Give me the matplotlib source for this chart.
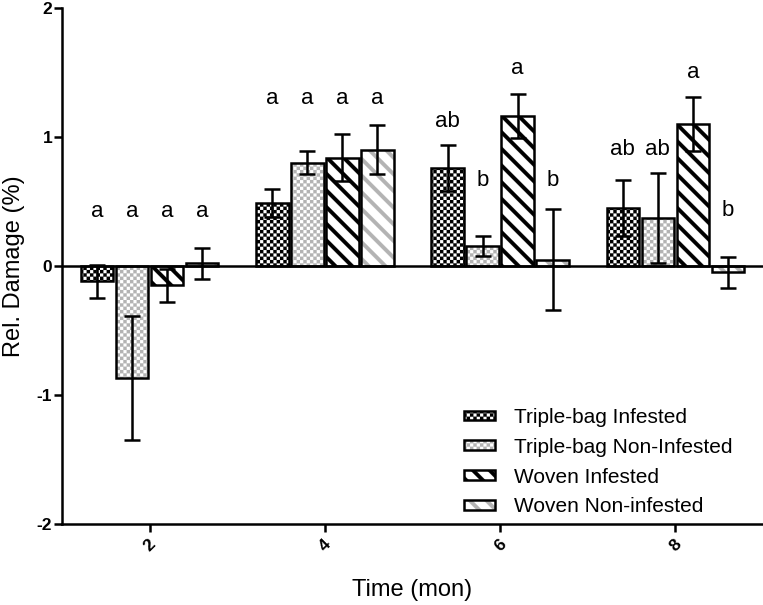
"""
Grouped bar chart of relative damage over storage time, with checker and
stripe fills drawn through custom hatch patterns.
"""

import warnings
import numpy as np
import matplotlib
matplotlib.use('Agg')  # Use non-interactive backend
import matplotlib.pyplot as plt
from matplotlib import hatch as mhatch
from matplotlib.path import Path
from matplotlib.patches import Patch

warnings.filterwarnings('ignore')  # custom hatch letters raise a deprecation note

# ---- data -----------------------------------------------------------------
months = ['2', '4', '6', '8']
series = ['Triple-bag Infested', 'Triple-bag Non-Infested',
          'Woven Infested', 'Woven Non-infested']
y_ticks = [-2, -1, 0, 1, 2]

tb_inf = [-0.12, 0.49, 0.76, 0.45]
tb_non = [-0.87, 0.80, 0.155, 0.37]
wv_inf = [-0.15, 0.84, 1.16, 1.10]
wv_non = [0.02, 0.90, 0.05, -0.05]

tb_inf_err = [0.13, 0.11, 0.18, 0.22]
tb_non_err = [0.48, 0.09, 0.08, 0.35]
wv_inf_err = [0.13, 0.18, 0.17, 0.21]
wv_non_err = [0.12, 0.19, 0.39, 0.12]

tb_inf_letters = ['a', 'a', 'ab', 'ab']
tb_non_letters = ['a', 'a', 'b', 'ab']
wv_inf_letters = ['a', 'a', 'a', 'a']
wv_non_letters = ['a', 'a', 'b', 'b']

# height (data units) where each letter sits
tb_inf_letter_y = [0.42, 1.30, 1.12, 0.90]
tb_non_letter_y = [0.42, 1.30, 0.66, 0.90]
wv_inf_letter_y = [0.42, 1.30, 1.53, 1.50]
wv_non_letter_y = [0.42, 1.30, 0.66, 0.43]


# ---- custom hatches ---------------------------------------------------------
class CheckerHatch(mhatch.HatchPatternBase):
    """'c' -> filled checkerboard squares."""

    def __init__(self, hatch, density):
        self.n = hatch.count('c') * 5
        self.num_vertices = self.n * self.n * 2 * 5

    def set_vertices_and_codes(self, vertices, codes):
        step = 1.0 / self.n
        half = step / 2
        square = np.array([[0, 0], [half, 0], [half, half], [0, half], [0, 0]])
        corners = []
        for i in range(self.n):
            for j in range(self.n):
                corners.append((i * step, j * step))
                corners.append((i * step + half, j * step + half))
        corners = np.array(corners)
        vertices[:] = (corners[:, None, :] + square[None]).reshape(-1, 2)
        sq_codes = [Path.MOVETO, Path.LINETO, Path.LINETO, Path.LINETO,
                    Path.CLOSEPOLY]
        codes[:] = np.tile(sq_codes, len(corners))


class BandHatch(mhatch.HatchPatternBase):
    """'d' -> thick filled bands running top-left to bottom-right."""

    def __init__(self, hatch, density):
        self.n = hatch.count('d') * 6
        self.num_bands = 2 * self.n + 2 if self.n else 0
        self.num_vertices = self.num_bands * 5

    def set_vertices_and_codes(self, vertices, codes):
        step = 1.0 / self.n
        t = 0.32 * step
        cs = np.arange(-1, self.num_bands - 1) * step
        polys = []
        for c in cs:
            polys.append([(c + 0.5, -0.5), (c + t + 0.5, -0.5),
                          (c + t - 1.5, 1.5), (c - 1.5, 1.5), (c + 0.5, -0.5)])
        vertices[:] = np.array(polys).reshape(-1, 2)
        band_codes = [Path.MOVETO, Path.LINETO, Path.LINETO, Path.LINETO,
                      Path.CLOSEPOLY]
        codes[:] = np.tile(band_codes, len(cs))


mhatch._hatch_types.append(CheckerHatch)
mhatch._hatch_types.append(BandHatch)

plt.rcParams['font.family'] = 'Liberation Sans'
plt.rcParams['hatch.linewidth'] = 0.1
plt.rcParams['axes.unicode_minus'] = False

gray = '#b3b3b3'
values = [tb_inf, tb_non, wv_inf, wv_non]
errors = [tb_inf_err, tb_non_err, wv_inf_err, wv_non_err]
letters = [tb_inf_letters, tb_non_letters, wv_inf_letters, wv_non_letters]
letter_y = [tb_inf_letter_y, tb_non_letter_y, wv_inf_letter_y, wv_non_letter_y]
styles = [('ccc', 'black'), ('ccc', gray), ('d', 'black'), ('d', gray)]

fig = plt.figure(figsize=(7.63, 6.05), dpi=100)
ax = fig.add_axes([62 / 763, 81 / 605, 701 / 763, 516 / 605])

x = np.arange(len(months))
width = 0.185
handles = []
for i in range(len(series)):
    pos = x + (i - 1.5) * 0.2
    hatch, hcol = styles[i]
    ax.bar(pos, values[i], width=width, color='white', edgecolor=hcol,
           hatch=hatch, linewidth=0, zorder=2)
    ax.bar(pos, values[i], width=width, fill=False, edgecolor='black',
           linewidth=1.8, zorder=3)
    ax.errorbar(pos, values[i], yerr=errors[i], fmt='none', ecolor='black',
                elinewidth=1.8, capsize=6, capthick=1.8, zorder=4)
    for p, lab, ly in zip(pos, letters[i], letter_y[i]):
        ax.text(p, ly, lab, ha='center', va='center', fontsize=16)
    handles.append((Patch(facecolor='white', edgecolor=hcol, hatch=hatch, lw=0),
                    Patch(fill=False, edgecolor='black', lw=1.8)))

ax.axhline(0, color='black', lw=1.8, zorder=2.5)

ax.spines['top'].set_visible(False)
ax.spines['right'].set_visible(False)
ax.spines['left'].set_linewidth(1.8)
ax.spines['bottom'].set_linewidth(1.8)
ax.tick_params(axis='both', length=6, width=1.8, direction='out',
               labelsize=12.5)
ax.tick_params(axis='y', pad=1)
ax.tick_params(axis='x', pad=3)

ax.set_xlim(-0.5, 3.5)
ax.set_ylim(-2, 2)
ax.set_yticks(y_ticks, labels=[str(v) for v in y_ticks])
ax.set_xticks(x, labels=months, rotation=45)
for lab in ax.get_xticklabels() + ax.get_yticklabels():
    lab.set_fontweight('bold')

ax.set_ylabel('Rel. Damage (%)', fontsize=17)
ax.yaxis.set_label_coords((25 - 62) / 701, 0.5)
ax.set_xlabel('Time (mon)', fontsize=17)
ax.xaxis.set_label_coords(0.5, (524 - 579) / 516)

ax.legend(handles, series, loc='upper left',
          bbox_to_anchor=(464 / 763, 1 - 408 / 605),
          bbox_transform=fig.transFigure, frameon=False, fontsize=15,
          borderpad=0, borderaxespad=0, handlelength=1.5, handleheight=0.35,
          handletextpad=0.9, labelspacing=0.52)

fig.savefig('out.png', dpi=100)
